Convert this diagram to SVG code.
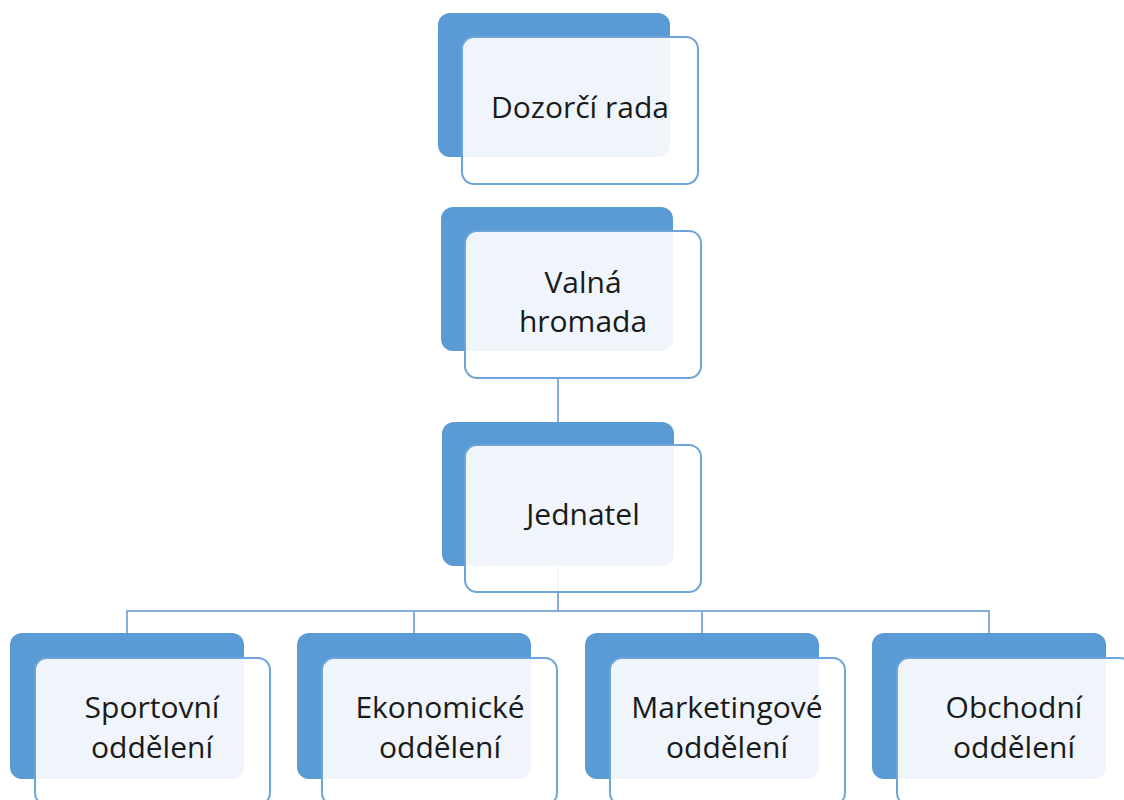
<svg xmlns="http://www.w3.org/2000/svg" width="1124" height="800" viewBox="0 0 1124 800">
<style>
.back{fill:#5b9bd5}
.front{fill:#ffffff;fill-opacity:0.9;stroke:#6ea4d9;stroke-width:2}
.lbl{font-family:"Open Sans","Noto Sans",sans-serif;font-size:30px;fill:#1a1a1a;text-anchor:middle}
.conn{stroke:#86acd9;stroke-width:2;fill:none}
</style>
<rect width="1124" height="800" fill="#ffffff"/>
<g id="connectors">
<path class="conn" d="M558 378V422"/>
<path class="conn" d="M558 565V611"/>
<path class="conn" d="M127 633V611H989V633"/>
<path class="conn" d="M414 611V633"/>
<path class="conn" d="M702 611V633"/>
</g>
<g id="dozorci-rada">
<rect class="back" x="438" y="13" width="232" height="144" rx="12"/>
<rect class="front" x="462" y="37" width="236" height="147" rx="12"/>
<text class="lbl" x="580" y="118">Dozorčí rada</text>
</g>
<g id="valna-hromada">
<rect class="back" x="441" y="207" width="232" height="144" rx="12"/>
<rect class="front" x="465" y="231" width="236" height="147" rx="12"/>
<text class="lbl" x="583" y="293">Valná</text>
<text class="lbl" x="583" y="332">hromada</text>
</g>
<g id="jednatel">
<rect class="back" x="442" y="422" width="232" height="144" rx="12"/>
<rect class="front" x="465" y="445" width="236" height="147" rx="12"/>
<text class="lbl" x="583" y="525">Jednatel</text>
</g>
<g id="sportovni">
<rect class="back" x="10" y="633" width="234" height="146" rx="12"/>
<rect class="front" x="35" y="658" width="235" height="147" rx="12"/>
<text class="lbl" x="152" y="718">Sportovní</text>
<text class="lbl" x="152" y="758">oddělení</text>
</g>
<g id="ekonomicke">
<rect class="back" x="297" y="633" width="234" height="146" rx="12"/>
<rect class="front" x="322" y="658" width="235" height="147" rx="12"/>
<text class="lbl" x="440" y="718">Ekonomické</text>
<text class="lbl" x="440" y="758">oddělení</text>
</g>
<g id="marketingove">
<rect class="back" x="585" y="633" width="234" height="146" rx="12"/>
<rect class="front" x="610" y="658" width="235" height="147" rx="12"/>
<text class="lbl" x="727" y="718">Marketingové</text>
<text class="lbl" x="727" y="758">oddělení</text>
</g>
<g id="obchodni">
<rect class="back" x="872" y="633" width="234" height="146" rx="12"/>
<rect class="front" x="897" y="658" width="235" height="147" rx="12"/>
<text class="lbl" x="1014" y="718">Obchodní</text>
<text class="lbl" x="1014" y="758">oddělení</text>
</g>
</svg>
